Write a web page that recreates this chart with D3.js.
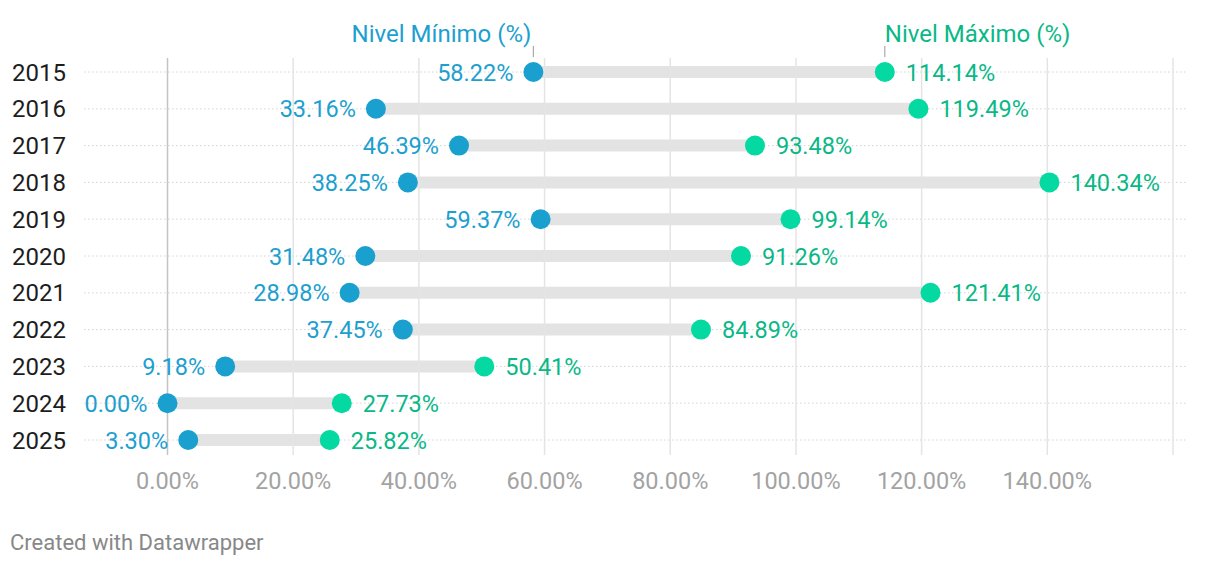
<!DOCTYPE html>
<html>
<head>
<meta charset="utf-8">
<script src="https://cdn.jsdelivr.net/npm/d3@7"></script>
<style>
  body { margin: 0; background: #fff; }
  text { font-family: Roboto, "Noto Sans", sans-serif; }
</style>
</head>
<body>
<div id="chart"></div>
<script>
// data
var years = ["2015", "2016", "2017", "2018", "2019", "2020", "2021", "2022", "2023", "2024", "2025"];
var minVals = [58.22, 33.16, 46.39, 38.25, 59.37, 31.48, 28.98, 37.45, 9.18, 0.00, 3.30];
var maxVals = [114.14, 119.49, 93.48, 140.34, 99.14, 91.26, 121.41, 84.89, 50.41, 27.73, 25.82];
var xTicks = [0, 20, 40, 60, 80, 100, 120, 140, 160];
var minLabel = "Nivel Mínimo (%)";
var maxLabel = "Nivel Máximo (%)";

var width = 1220, height = 568;
var blue = "#1aa0cf", blueText = "#1d9fcf";
var green = "#05d9a2", greenText = "#0ab887";

var svg = d3.select("#chart")
  .append("svg")
    .attr("width", width)
    .attr("height", height);

var x = d3.scaleLinear()
  .domain([0, 160])
  .range([167.5, 1173]);

var y = d3.scalePoint()
  .domain(years)
  .range([72, 440]);

var rows = years.map(function(yr, i) {
  return {year: yr, min: minVals[i], max: maxVals[i]};
});

// horizontal dotted lines
svg.append("g")
  .selectAll("line")
  .data(years)
  .enter()
  .append("line")
    .attr("x1", 84)
    .attr("x2", 1186)
    .attr("y1", function(d) { return y(d); })
    .attr("y2", function(d) { return y(d); })
    .attr("stroke", "#d4d4d4")
    .attr("stroke-width", 1)
    .attr("stroke-dasharray", "1.5,2.5");

// range bars
svg.append("g")
  .selectAll("line")
  .data(rows)
  .enter()
  .append("line")
    .attr("x1", function(d) { return x(d.min); })
    .attr("x2", function(d) { return x(d.max); })
    .attr("y1", function(d) { return y(d.year); })
    .attr("y2", function(d) { return y(d.year); })
    .attr("stroke", "#e3e3e3")
    .attr("stroke-width", 12);

// vertical grid lines (drawn over the bars)
svg.append("g")
  .selectAll("line")
  .data(xTicks)
  .enter()
  .append("line")
    .attr("x1", function(d) { return x(d); })
    .attr("x2", function(d) { return x(d); })
    .attr("y1", 58)
    .attr("y2", 455)
    .attr("stroke", function(d) { return d === 0 ? "#c4c4c4" : "#e4e4e4"; })
    .attr("stroke-width", 1.5);

// x tick labels
svg.append("g")
  .selectAll("text")
  .data(xTicks.filter(function(d) { return d < 160; }))
  .enter()
  .append("text")
    .attr("x", function(d) { return x(d); })
    .attr("y", 489)
    .attr("text-anchor", "middle")
    .attr("font-size", "23.5px")
    .attr("fill", "#a3a3a3")
    .text(function(d) { return d3.format(".2f")(d) + "%"; });

// year labels
svg.append("g")
  .selectAll("text")
  .data(years)
  .enter()
  .append("text")
    .attr("x", 12)
    .attr("y", function(d) { return y(d) + 8.5; })
    .attr("font-size", "24px")
    .attr("fill", "#1d1d1d")
    .text(function(d) { return d; });

// dots
svg.append("g")
  .selectAll("circle")
  .data(rows)
  .enter()
  .append("circle")
    .attr("cx", function(d) { return x(d.min); })
    .attr("cy", function(d) { return y(d.year); })
    .attr("r", 10)
    .attr("fill", blue);

svg.append("g")
  .selectAll("circle")
  .data(rows)
  .enter()
  .append("circle")
    .attr("cx", function(d) { return x(d.max); })
    .attr("cy", function(d) { return y(d.year); })
    .attr("r", 10)
    .attr("fill", green);

// value labels
svg.append("g")
  .selectAll("text")
  .data(rows)
  .enter()
  .append("text")
    .attr("x", function(d) { return x(d.min) - 20; })
    .attr("y", function(d) { return y(d.year) + 8.5; })
    .attr("text-anchor", "end")
    .attr("font-size", "23.5px")
    .attr("fill", blueText)
    .text(function(d) { return d3.format(".2f")(d.min) + "%"; });

svg.append("g")
  .selectAll("text")
  .data(rows)
  .enter()
  .append("text")
    .attr("x", function(d) { return x(d.max) + 21; })
    .attr("y", function(d) { return y(d.year) + 8.5; })
    .attr("font-size", "23.5px")
    .attr("fill", greenText)
    .text(function(d) { return d3.format(".2f")(d.max) + "%"; });

// series headers above first row
var first = rows[0];
svg.append("line")
  .attr("x1", x(first.min)).attr("x2", x(first.min))
  .attr("y1", 46).attr("y2", 57)
  .attr("stroke", "#aaa").attr("stroke-width", 1.2);
svg.append("line")
  .attr("x1", x(first.max)).attr("x2", x(first.max))
  .attr("y1", 46).attr("y2", 57)
  .attr("stroke", "#aaa").attr("stroke-width", 1.2);

svg.append("text")
  .attr("x", x(first.min) - 2)
  .attr("y", 42)
  .attr("text-anchor", "end")
  .attr("font-size", "24px")
  .attr("fill", blueText)
  .text(minLabel);

svg.append("text")
  .attr("x", x(first.max))
  .attr("y", 42)
  .attr("font-size", "24px")
  .attr("fill", greenText)
  .text(maxLabel);

// footer
svg.append("text")
  .attr("x", 10)
  .attr("y", 550)
  .attr("font-size", "22px")
  .attr("fill", "#888")
  .text("Created with Datawrapper");
</script>
</body>
</html>
